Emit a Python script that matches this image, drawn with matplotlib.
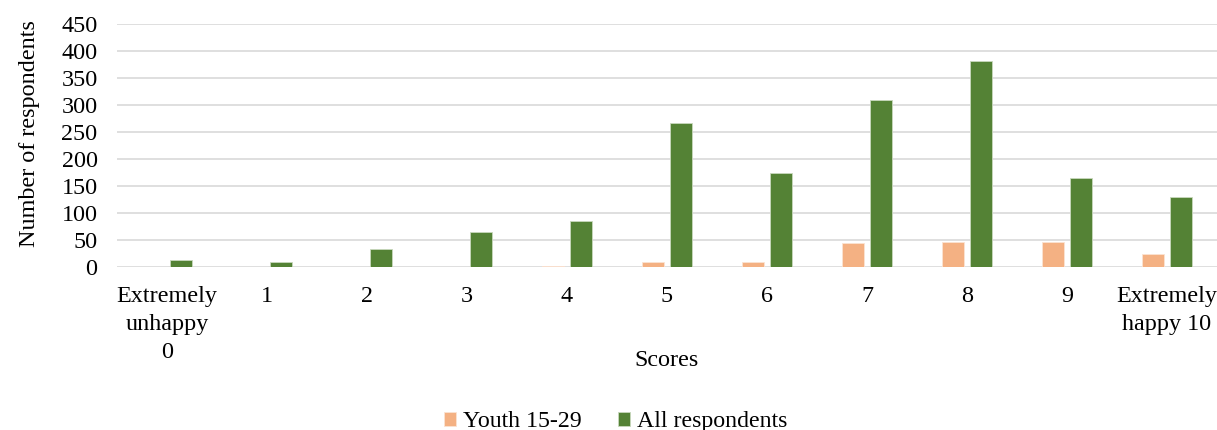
import matplotlib.pyplot as plt
import numpy as np

plt.rcParams['font.family'] = ['Liberation Serif', 'DejaVu Serif']

# scores and number of respondents per score
categories = ["Extremely\nunhappy\n0", "1", "2", "3", "4", "5", "6", "7", "8", "9", "Extremely\nhappy 10"]
youth = [0, 0, 0, 0, 1, 9, 10, 44, 46, 46, 24]
all_resp = [13, 9, 33, 65, 86, 266, 174, 309, 382, 164, 129]

fig = plt.figure(figsize=(12.17, 4.30), dpi=100)
ax = fig.add_axes([117 / 1217, 163 / 430, 1100 / 1217, 243 / 430])

x = np.arange(len(categories))
width = 0.22
ax.bar(x - 0.14, youth, width, color='#F4B183', edgecolor='#FBE3D3', linewidth=0.6,
       label="Youth 15-29", zorder=3)
ax.bar(x + 0.14, all_resp, width, color='#548235', edgecolor='#C9D8BE', linewidth=0.6,
       label="All respondents", zorder=3)

fs = 17.4
ax.set_xlim(-0.5, 10.5)
ax.set_ylim(0, 450)
ax.set_yticks(range(0, 451, 50))
ax.set_xticks(x)
ax.set_xticklabels(categories, linespacing=1.42)
ax.tick_params(axis='both', length=0, labelsize=fs)
ax.tick_params(axis='x', pad=14)
ax.tick_params(axis='y', pad=14)
ax.grid(True, axis='y', color='#D9D9D9', linewidth=1.2, zorder=0)
for s in ax.spines.values():
    s.set_visible(False)

ax.set_xlabel("Scores", fontsize=fs, labelpad=-9)
ax.set_ylabel("Number of respondents", fontsize=fs, labelpad=15, y=0.551)

ax.legend(loc='center', bbox_to_anchor=(0.4532, -0.637), ncol=2, frameon=False,
          fontsize=17.2, handlelength=0.5, handleheight=0.5, handletextpad=0.3,
          columnspacing=1.5)

fig.savefig("out.png", dpi=100)
